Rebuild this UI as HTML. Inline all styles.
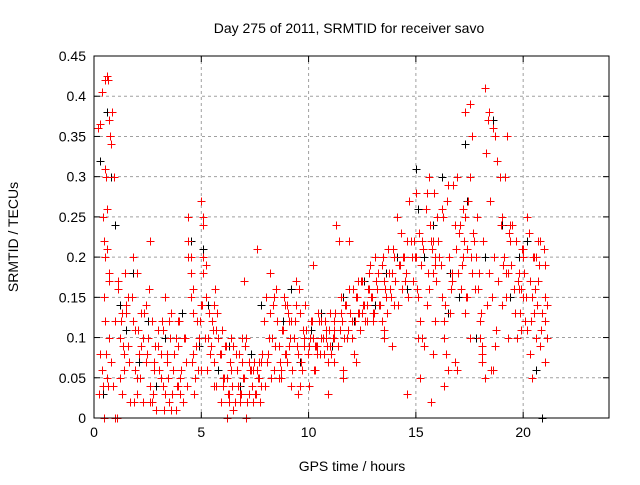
<!DOCTYPE html>
<html><head><meta charset="utf-8"><style>
body{margin:0;background:#fff;font-family:"Liberation Sans",sans-serif;}
svg text{font-family:"Liberation Sans",sans-serif;font-size:14px;fill:#000;}
</style></head><body>
<svg id="chart" width="640" height="480" viewBox="0 0 640 480" xmlns="http://www.w3.org/2000/svg">
<rect width="640" height="480" fill="#fff"/>
<text x="349" y="33" text-anchor="middle">Day 275 of 2011, SRMTID for receiver savo</text>
<text x="352" y="471" text-anchor="middle">GPS time / hours</text>
<text transform="translate(18,237) rotate(-90)" text-anchor="middle">SRMTID / TECUs</text>
<g id="grid"></g>
<g id="marks-black"></g>
<g id="marks-red"></g>
<rect x="94" y="56" width="515" height="362" fill="none" stroke="#000" stroke-width="1"/>
<g id="ticks"></g>
</svg>
<script>
const xTicks=[0,5,10,15,20];
const yTicks=[0,0.05,0.1,0.15,0.2,0.25,0.3,0.35,0.4,0.45];
const yTickLabels=["0","0.05","0.1","0.15","0.2","0.25","0.3","0.35","0.4","0.45"];
const redX=[0.2,0.3,0.35,0.5,0.6,0.65,0.7,0.75,0.8,0.5,0.55,0.6,0.4,0.45,0.5,0.6,0.7,0.3,0.35,0.4,0.45,0.5,0.55,0.6,0.7,0.8,0.9,1.0,1.1,1.2,1.3,1.4,1.5,1.6,1.7,1.8,1.9,2.0,2.1,2.2,2.3,2.4,2.5,2.6,2.7,2.8,2.9,3.0,3.1,3.2,3.3,3.4,3.5,3.6,3.7,3.8,3.9,4.0,1.0,1.2,1.4,1.6,1.8,2.0,2.2,2.4,2.6,2.8,3.0,3.2,3.4,3.6,3.8,4.0,1.1,1.5,1.9,2.3,2.7,3.1,3.5,3.9,4.2,4.4,4.4,4.5,4.5,4.5,4.6,4.6,4.3,4.7,4.8,4.9,5.0,5.0,5.1,5.1,5.1,5.2,5.2,5.3,5.0,5.4,5.5,5.6,5.7,5.8,5.9,6.0,6.1,6.2,6.3,6.4,6.5,6.6,6.7,6.8,6.9,7.0,7.1,7.2,7.3,7.4,5.6,5.9,6.2,6.5,6.8,7.1,7.4,5.7,6.0,6.3,6.6,6.9,7.2,7.5,7.6,7.7,7.8,7.9,8.0,8.1,8.2,8.3,8.4,8.5,8.6,8.7,8.8,8.9,9.0,9.1,9.2,9.3,9.4,9.5,9.6,9.7,9.8,9.9,7.7,8.0,8.3,8.6,8.9,9.2,9.5,9.8,7.8,8.2,8.7,9.1,9.4,10.0,10.1,10.2,10.3,10.4,10.5,10.6,10.7,10.8,10.9,11.0,10.0,10.2,10.4,10.6,10.8,11.0,11.2,11.2,11.2,11.2,11.3,11.4,11.5,11.6,11.7,11.8,11.9,12.0,12.1,12.2,12.3,12.4,12.5,12.6,12.7,12.8,12.9,13.0,13.1,13.2,13.3,13.4,13.5,13.6,13.7,13.8,13.9,14.0,11.5,11.9,12.3,12.7,13.1,13.5,13.9,12.0,12.5,13.0,13.5,14.0,14.2,14.4,14.5,14.6,14.8,14.3,14.7,14.1,14.9,15.0,15.1,15.2,15.3,15.4,15.5,15.6,15.7,15.8,15.9,16.0,16.1,16.2,16.3,16.4,16.5,16.6,16.7,16.8,16.9,15.0,15.3,15.6,15.9,16.2,16.5,16.8,15.1,15.5,15.9,16.3,16.7,15.8,17.0,17.1,17.2,17.3,17.3,17.4,17.4,17.5,17.6,17.7,17.2,17.3,17.5,17.6,17.8,17.9,18.0,18.0,18.1,18.1,18.2,18.3,18.4,18.5,18.0,18.2,18.4,18.6,18.7,18.8,18.9,19.0,19.1,19.2,19.3,19.4,19.5,19.6,19.7,19.8,19.9,20.0,20.1,20.2,20.3,20.4,20.5,20.6,20.7,20.8,20.9,21.0,18.6,19.0,19.4,19.8,20.2,20.6,21.0,19.2,19.6,20.0,20.4,20.8,21.0,20.3,20.0,20.7,21.1,21.1,15.8,
0.25,0.45,0.65,0.85,0.95,1.05,1.25,1.35,1.45,1.65,1.75,1.85,2.05,2.15,2.35,2.45,2.55,2.75,2.85,3.05,3.15,3.25,3.45,3.55,3.65,3.75,3.85,3.95,4.05,4.15,4.25,4.35,4.55,4.65,4.75,4.85,4.95,5.05,5.15,5.25,5.35,5.45,5.55,5.65,5.75,5.85,5.95,6.05,6.15,6.25,6.35,6.45,6.55,6.65,6.75,6.85,6.95,7.05,7.15,7.25,7.35,7.45,7.55,7.65,7.75,7.85,7.95,8.05,8.15,8.25,8.35,8.45,8.55,8.65,8.75,8.85,8.95,9.05,9.15,9.25,9.35,9.45,9.55,9.65,9.75,9.85,9.95,10.05,10.15,10.25,10.35,10.45,10.55,10.65,10.75,10.85,10.95,11.05,11.15,11.25,11.35,11.45,11.55,11.65,11.75,11.85,11.95,12.05,12.15,12.25,12.35,12.45,12.55,12.65,12.75,12.85,12.95,13.05,13.15,13.25,13.35,13.45,13.55,13.65,13.75,13.85,13.95,14.05,14.15,14.25,14.35,14.45,14.55,14.65,14.75,14.85,14.95,15.05,15.15,15.25,15.35,15.45,15.55,15.65,15.75,15.85,15.95,16.05,16.15,16.25,16.35,16.45,16.55,16.65,16.75,16.85,16.95,17.05,17.15,17.25,17.35,17.45,17.55,17.65,17.75,17.85,17.95,18.05,18.15,18.25,18.35,18.45,18.55,18.65,18.75,18.85,18.95,19.05,19.15,19.25,19.35,19.45,19.55,19.65,19.75,19.85,19.95,20.05,20.15,20.25,20.35,20.45,20.55,20.65,20.75,20.85,20.95,
0.7,1.3,2.0,2.6,3.3,3.9,4.4,4.6,5.1,5.6,6.4,7.0,7.6,8.4,9.0,9.6,10.3,10.9,11.6,12.2,12.8,13.4,14.0,14.6,15.2,15.7,16.3,16.9,17.5,18.1,18.7,19.3,19.9,20.5,21.0];
const redY=[0.36,0.365,0.405,0.42,0.425,0.42,0.37,0.35,0.34,0.31,0.3,0.26,0.25,0.22,0.2,0.21,0.18,0.08,0.06,0.04,0.15,0.12,0.08,0.05,0.1,0.07,0.04,0.12,0.17,0.1,0.03,0.06,0.14,0.09,0.02,0.2,0.11,0.05,0.08,0.13,0.02,0.07,0.1,0.04,0.12,0.06,0.01,0.09,0.05,0.11,0.03,0.07,0.02,0.13,0.06,0.01,0.09,0.05,0.0,0.05,0.08,0.15,0.12,0.03,0.09,0.14,0.02,0.07,0.11,0.04,0.08,0.01,0.1,0.03,0.16,0.13,0.06,0.1,0.02,0.08,0.12,0.04,0.1,0.25,0.22,0.2,0.18,0.15,0.13,0.08,0.07,0.05,0.12,0.1,0.14,0.27,0.25,0.24,0.2,0.19,0.15,0.1,0.06,0.08,0.12,0.07,0.04,0.1,0.02,0.05,0.09,0.0,0.03,0.06,0.01,0.08,0.04,0.02,0.07,0.05,0.1,0.03,0.06,0.02,0.04,0.08,0.05,0.09,0.03,0.0,0.06,0.11,0.04,0.02,0.08,0.1,0.07,0.03,0.06,0.05,0.04,0.12,0.15,0.08,0.13,0.1,0.06,0.16,0.09,0.05,0.11,0.14,0.07,0.12,0.04,0.1,0.17,0.08,0.13,0.06,0.09,0.11,0.07,0.15,0.1,0.05,0.08,0.12,0.03,0.1,0.07,0.18,0.06,0.09,0.14,0.04,0.12,0.19,0.06,0.09,0.12,0.1,0.08,0.11,0.07,0.13,0.09,0.1,0.08,0.12,0.1,0.09,0.11,0.07,0.12,0.1,0.24,0.22,0.13,0.06,0.14,0.1,0.16,0.12,0.08,0.15,0.13,0.11,0.17,0.14,0.12,0.18,0.15,0.13,0.2,0.16,0.14,0.19,0.17,0.15,0.21,0.16,0.18,0.2,0.15,0.22,0.17,0.14,0.2,0.11,0.09,0.1,0.13,0.12,0.1,0.14,0.19,0.2,0.17,0.22,0.2,0.23,0.27,0.25,0.22,0.2,0.15,0.12,0.1,0.09,0.28,0.3,0.22,0.18,0.12,0.25,0.2,0.15,0.1,0.08,0.06,0.13,0.18,0.24,0.3,0.28,0.22,0.16,0.2,0.26,0.29,0.07,0.1,0.14,0.19,0.12,0.17,0.22,0.23,0.16,0.2,0.13,0.25,0.15,0.21,0.3,0.18,0.22,0.26,0.38,0.39,0.35,0.2,0.16,0.12,0.1,0.08,0.09,0.05,0.14,0.18,0.06,0.12,0.41,0.38,0.36,0.35,0.32,0.3,0.25,0.2,0.15,0.18,0.22,0.24,0.13,0.1,0.18,0.16,0.21,0.12,0.25,0.08,0.15,0.2,0.1,0.17,0.22,0.13,0.19,0.06,0.14,0.24,0.16,0.11,0.2,0.07,0.18,0.13,0.15,0.05,0.09,0.12,0.17,0.2,0.22,0.14,0.1,0.08,0.03,0.0,0.04,0.38,0.3,0.0,
0.12,0.09,0.18,0.07,0.15,0.02,0.11,0.05,0.13,0.08,0.16,0.03,0.09,0.06,0.12,0.01,0.05,0.1,0.03,0.08,0.04,0.12,0.06,0.02,0.1,0.04,0.07,0.03,0.09,0.06,0.12,0.14,0.1,0.06,0.13,0.09,0.11,0.16,0.13,0.08,0.11,0.05,0.09,0.03,0.07,0.04,0.02,0.06,0.08,0.03,0.05,0.09,0.02,0.06,0.04,0.07,0.03,0.05,0.02,0.08,0.04,0.07,0.1,0.05,0.14,0.09,0.12,0.07,0.11,0.15,0.08,0.13,0.1,0.06,0.12,0.09,0.16,0.07,0.11,0.14,0.08,0.1,0.12,0.06,0.09,0.13,0.08,0.1,0.12,0.09,0.11,0.08,0.1,0.13,0.09,0.11,0.12,0.1,0.14,0.11,0.13,0.16,0.12,0.15,0.13,0.17,0.14,0.12,0.16,0.19,0.15,0.13,0.17,0.18,0.14,0.2,0.16,0.13,0.18,0.15,0.21,0.17,0.14,0.19,0.16,0.2,0.18,0.15,0.22,0.17,0.2,0.16,0.23,0.19,0.21,0.26,0.18,0.24,0.21,0.28,0.17,0.22,0.19,0.25,0.14,0.27,0.2,0.16,0.29,0.21,0.18,0.24,0.19,0.22,0.15,0.27,0.2,0.23,0.16,0.25,0.18,0.13,0.22,0.33,0.37,0.27,0.15,0.2,0.11,0.17,0.24,0.19,0.3,0.35,0.23,0.19,0.16,0.22,0.17,0.13,0.21,0.18,0.15,0.23,0.12,0.2,0.16,0.14,0.19,0.11,0.21,0.17,0.13,0.18,0.22,0.15,0.12,0.2,0.16,0.18,0.14,0.1,0.17,0.21,0.15,
0.14,0.04,0.09,0.03,0.05,0.07,0.16,0.12,0.2,0.03,0.05,0.02,0.04,0.06,0.1,0.07,0.09,0.1,0.11,0.13,0.15,0.17,0.19,0.16,0.1,0.24,0.21,0.19,0.1,0.2,0.14,0.13,0.09,0.12,0.15];
const blackX=[0.3,0.4,0.6,0.8,1.0,1.2,1.5,1.8,2.1,2.5,2.9,3.3,3.7,4.1,4.5,4.9,5.1,5.3,5.8,6.3,6.8,7.3,7.8,8.3,8.8,9.2,9.6,10.1,10.6,11.1,11.6,12.1,12.6,13.1,13.6,14.1,14.6,15.0,15.4,15.8,16.2,16.6,17.0,17.4,17.8,18.2,18.6,19.0,19.4,19.8,20.2,20.6,20.9,15.1,16.5,17.3];
const blackY=[0.32,0.03,0.38,0.3,0.24,0.14,0.11,0.18,0.07,0.12,0.04,0.1,0.06,0.13,0.22,0.09,0.21,0.14,0.06,0.09,0.04,0.08,0.14,0.1,0.12,0.16,0.07,0.11,0.13,0.09,0.15,0.12,0.17,0.14,0.18,0.2,0.16,0.31,0.2,0.24,0.3,0.18,0.15,0.27,0.1,0.2,0.37,0.24,0.15,0.2,0.22,0.06,0.0,0.26,0.13,0.34];
const NS='http://www.w3.org/2000/svg';
const X0=94,X1=609,Y0=418,Y1=56;
function sx(h){return X0+h*(X1-X0)/24;}
function sy(v){return Y0-v*(Y0-Y1)/0.45;}
function mk(tag,attrs,parent){const e=document.createElementNS(NS,tag);for(const k in attrs)e.setAttribute(k,attrs[k]);parent.appendChild(e);return e;}
const grid=document.getElementById('grid'),ticks=document.getElementById('ticks');
yTicks.forEach((v,i)=>{
  const y=sy(v);
  if(i>0&&i<yTicks.length-1){const g=mk('line',{x1:X0,x2:X1,y1:y,y2:y,stroke:'#a0a0a0','stroke-dasharray':'3,3'},grid);
  
  }
  const t=mk('line',{x1:X0,x2:X0+6,y1:y,y2:y,stroke:'#000'},ticks);
  
  
  const t2=mk('line',{x1:X1-6,x2:X1,y1:y,y2:y,stroke:'#000'},ticks);
  
  
  const l=mk('text',{x:X0-8,y:y+5,'text-anchor':'end'},ticks);
  l.textContent=yTickLabels[i];
  
  
});
xTicks.forEach(h=>{
  const x=sx(h);
  if(h>0){const g=mk('line',{x1:x,x2:x,y1:Y0,y2:Y1,stroke:'#a0a0a0','stroke-dasharray':'3,3'},grid);
  
  }
  const t=mk('line',{x1:x,x2:x,y1:Y0,y2:Y0-6,stroke:'#000'},ticks);
  
  
  const t2=mk('line',{x1:x,x2:x,y1:Y1,y2:Y1+6,stroke:'#000'},ticks);
  
  
  const l=mk('text',{x:x,y:Y0+19,'text-anchor':'middle'},ticks);
  l.textContent=String(h);
  
  
});
function plus(xs,ys,parent,color){
  for(let i=0;i<xs.length;i++){
    const x=Math.round(sx(xs[i]))+0.5,y=Math.round(sy(ys[i]))+0.5;
    const p=mk('path',{d:`M${x-4} ${y}H${x+4}M${x} ${y-4}V${y+4}`,stroke:color,'stroke-width':1,fill:'none'},parent);
    
    
  }
}
plus(blackX,blackY,document.getElementById('marks-black'),'#000');
plus(redX,redY,document.getElementById('marks-red'),'#ff0000');
</script>
</body></html>
